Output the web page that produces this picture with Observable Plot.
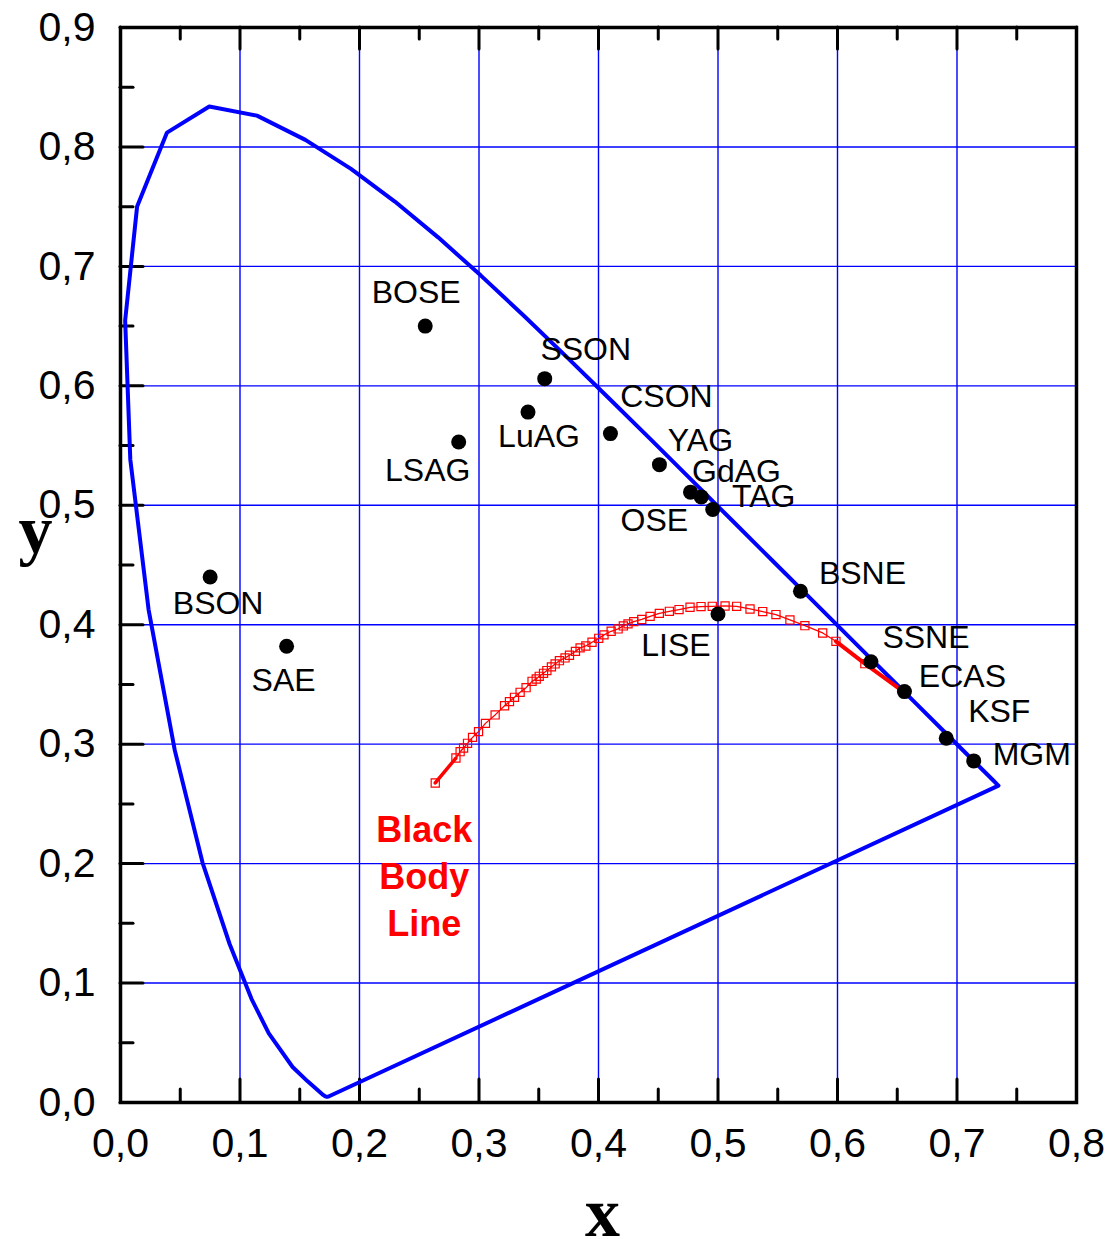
<!DOCTYPE html>
<html><head><meta charset="utf-8">
<script src="https://cdn.jsdelivr.net/npm/d3@7"></script>
<script src="https://cdn.jsdelivr.net/npm/@observablehq/plot@0.6"></script>
<style>body{margin:0;background:#fff}</style>
</head><body><div id="chart"></div>
<script>
// CIE 1931 spectral locus (chromaticity x, y)
const locusX = [0.1741,0.1738,0.1733,0.1726,0.1714,0.1689,0.1644,0.1566,0.1440,0.1241,0.1096,0.0913,0.0687,0.0454,0.0235,0.0082,0.0039,0.0139,0.0389,0.0743,0.1142,0.1547,0.1929,0.2296,0.2658,0.3016,0.3373,0.3731,0.4087,0.4441,0.4788,0.5125,0.5448,0.5752,0.6029,0.6270,0.6482,0.6658,0.6915,0.7079,0.7190,0.7260,0.7300,0.7334,0.7347];
const locusY = [0.0050,0.0049,0.0048,0.0048,0.0051,0.0069,0.0109,0.0177,0.0297,0.0578,0.0868,0.1327,0.2007,0.2950,0.4127,0.5384,0.6548,0.7502,0.8120,0.8338,0.8262,0.8059,0.7816,0.7543,0.7243,0.6923,0.6589,0.6245,0.5896,0.5547,0.5202,0.4866,0.4544,0.4242,0.3965,0.3725,0.3514,0.3340,0.3083,0.2920,0.2809,0.2740,0.2700,0.2666,0.2653];

// Phosphors
const phosphorNames = ["BOSE","SSON","LuAG","LSAG","CSON","YAG","GdAG","OSE","TAG","BSNE","LISE","SSNE","ECAS","KSF","MGM","BSON","SAE"];
const phosphorX = [0.255,0.355,0.341,0.283,0.410,0.451,0.477,0.486,0.4956,0.569,0.500,0.628,0.656,0.691,0.714,0.075,0.139];
const phosphorY = [0.650,0.606,0.578,0.553,0.560,0.534,0.511,0.507,0.4965,0.428,0.409,0.369,0.344,0.305,0.286,0.440,0.382];

// Black body (Planckian) line points
const bbX = [0.2634,0.2807,0.2842,0.2871,0.2904,0.2946,0.2996,0.3054,0.3135,0.3214,0.3255,0.3297,0.3344,0.3394,0.3444,0.3479,0.3504,0.3540,0.3568,0.3606,0.3637,0.3673,0.3720,0.3757,0.3807,0.3846,0.3894,0.3946,0.4002,0.4046,0.4106,0.4164,0.4208,0.4247,0.4295,0.4362,0.4432,0.4509,0.4593,0.4674,0.4766,0.4858,0.4952,0.5059,0.5156,0.5268,0.5374,0.5485,0.5602,0.5727,0.5876,0.5987,0.6229];
const bbY = [0.2675,0.2884,0.2937,0.2968,0.3007,0.3057,0.3105,0.3174,0.3245,0.3322,0.3356,0.3392,0.3434,0.3473,0.3526,0.3546,0.3568,0.3593,0.3616,0.3647,0.3672,0.3699,0.3722,0.3744,0.3777,0.3806,0.3822,0.3853,0.3886,0.3915,0.3945,0.3965,0.3990,0.4007,0.4026,0.4044,0.4070,0.4095,0.4112,0.4127,0.4146,0.4152,0.4154,0.4157,0.4154,0.4132,0.4110,0.4085,0.4040,0.3992,0.3931,0.3861,0.3674];
const bbDenseStartX = [0.2634,0.2807];
const bbDenseStartY = [0.2675,0.2884];
const bbDenseEndX = [0.5987,0.6229,0.6505];
const bbDenseEndY = [0.3861,0.3674,0.3473];
const bbLabel = "Black\nBody\nLine";

// Ticks
const xMajor = [0,0.1,0.2,0.3,0.4,0.5,0.6,0.7,0.8];
const xMinor = [0.05,0.15,0.25,0.35,0.45,0.55,0.65,0.75];
const yMajor = [0,0.1,0.2,0.3,0.4,0.5,0.6,0.7,0.8,0.9];
const yMinor = [0.05,0.15,0.25,0.35,0.45,0.55,0.65,0.75,0.85];
const xGrid = [0.1,0.2,0.3,0.4,0.5,0.6,0.7];
const yGrid = [0.1,0.2,0.3,0.4,0.5,0.6,0.7,0.8];
const xLabel = "x", yLabel = "y";

// ---- layout / style (not data) ----
const W = 1112, H = 1239, mL = 120, mR = 36, mT = 27, mB = 137;
const frameW = W - mL - mR, frameH = H - mT - mB;
const labelOffsets = {
  BOSE:[-9,-33], SSON:[41,-29], LuAG:[11,25], LSAG:[-31,29], CSON:[56,-37],
  YAG:[41,-24], GdAG:[46,-20], OSE:[-47,24], TAG:[51,-13], BSNE:[62,-18],
  LISE:[-42,32], SSNE:[55,-24], ECAS:[58,-15], KSF:[53,-26], MGM:[58,-6],
  BSON:[8,27], SAE:[-3,35]
};
const fmt = d => d3.format(".1f")(d).replace(".", ",");
const blue = "#0000ff";

const locus = locusX.map((x,i) => ({x, y: locusY[i]}));
const phos = phosphorNames.map((n,i) => ({name:n, x: phosphorX[i], y: phosphorY[i]}));
const bb = bbX.map((x,i) => ({x, y: bbY[i]}));
const bbS = bbDenseStartX.map((x,i) => ({x, y: bbDenseStartY[i]}));
const bbE = bbDenseEndX.map((x,i) => ({x, y: bbDenseEndY[i]}));

const tickStyle = {stroke: "black", strokeWidth: 3, strokeLinecap: "round"};
const serif = "'Liberation Serif', 'Times New Roman', serif";

const chart = Plot.plot({
  width: W, height: H,
  marginLeft: mL, marginRight: mR, marginTop: mT, marginBottom: mB,
  x: {domain: [0, 0.8], axis: null},
  y: {domain: [0, 0.9], axis: null},
  style: {fontFamily: "'Liberation Sans', Arial, sans-serif", background: "white", color: "black"},
  marks: [
    Plot.ruleX(xGrid, {x: d => d, stroke: blue, strokeWidth: 1.4}),
    Plot.ruleY(yGrid, {y: d => d, stroke: blue, strokeWidth: 1.4}),
    // bottom ticks
    Plot.ruleX(xMajor, {x: d => d, insetTop: frameH - 23, ...tickStyle}),
    Plot.ruleX(xMinor, {x: d => d, insetTop: frameH - 13, ...tickStyle}),
    // top ticks
    Plot.ruleX(xMajor, {x: d => d, insetBottom: frameH - 22, ...tickStyle}),
    Plot.ruleX(xMinor, {x: d => d, insetBottom: frameH - 12, ...tickStyle}),
    // left ticks
    Plot.ruleY(yMajor, {y: d => d, insetRight: frameW - 23, ...tickStyle}),
    Plot.ruleY(yMinor, {y: d => d, insetRight: frameW - 13, ...tickStyle}),
    Plot.frame({stroke: "black", strokeWidth: 3.5}),
    // tick labels
    Plot.text(xMajor, {x: d => d, frameAnchor: "bottom", dy: 54, text: fmt, fontSize: 41, fill: "black"}),
    Plot.text(yMajor, {y: d => d, frameAnchor: "left", dx: -25, textAnchor: "end", text: fmt, fontSize: 41, fill: "black"}),
    // axis labels
    Plot.text([xLabel], {frameAnchor: "bottom", dx: 4, dy: 133, text: d => d, fontSize: 70, fontWeight: "bold", fontFamily: serif, fill: "black"}),
    Plot.text([yLabel], {frameAnchor: "left", dx: -102, dy: -34, text: d => d, fontSize: 68, fontWeight: "bold", fontFamily: serif, fill: "black"}),
    // spectral locus
    Plot.line(locus, {x: "x", y: "y", stroke: blue, strokeWidth: 4, curve: "linear-closed"}),
    // black body line
    Plot.line(bb, {x: "x", y: "y", stroke: "#ff0000", strokeWidth: 1.3}),
    Plot.line(bbS, {x: "x", y: "y", stroke: "#ff0000", strokeWidth: 3.5}),
    Plot.line(bbE, {x: "x", y: "y", stroke: "#ff0000", strokeWidth: 4}),
    Plot.dot(bb, {x: "x", y: "y", symbol: "square", r: 4.6, stroke: "#ff0000", strokeWidth: 1.2, fill: "none"}),
    Plot.text([bbLabel], {x: () => bbX[0], y: () => bbY[0], dx: -11, dy: 26, lineAnchor: "top", lineHeight: 1.3, text: d => d, fontSize: 36, fontWeight: "bold", fill: "#ff0000"}),
    // phosphors
    Plot.dot(phos, {x: "x", y: "y", r: 7.5, fill: "black"}),
    ...phos.map(p => Plot.text([p], {x: "x", y: "y", text: "name", dx: labelOffsets[p.name][0], dy: labelOffsets[p.name][1], fontSize: 32, fill: "black"}))
  ]
});
document.getElementById("chart").appendChild(chart);
</script>
</body></html>
